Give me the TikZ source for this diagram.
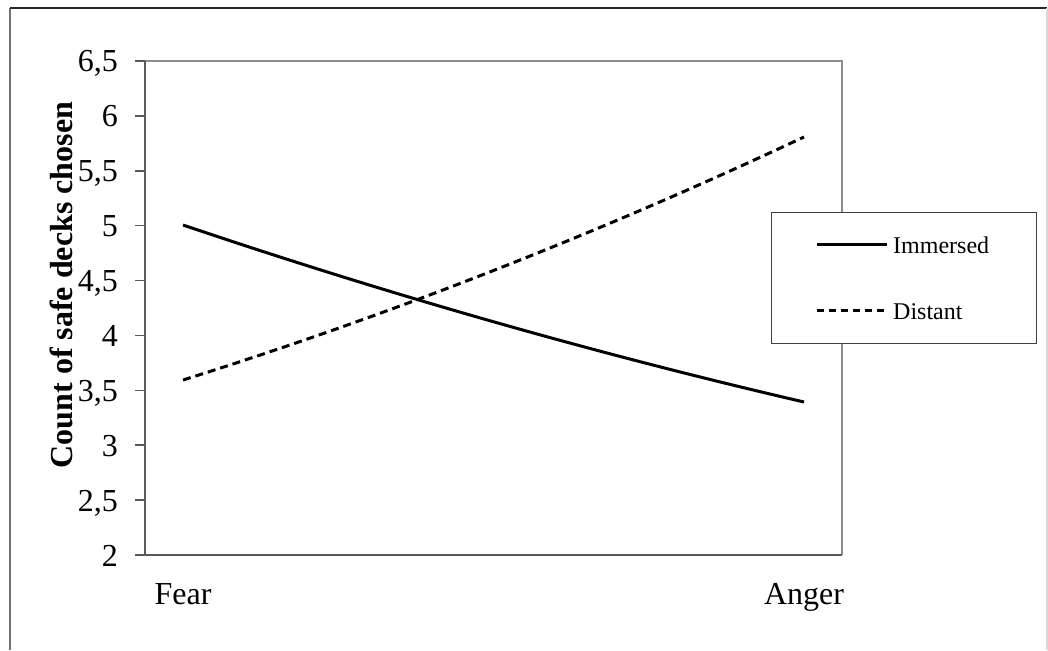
\documentclass[tikz,border=0pt]{standalone}
\usepackage{fontspec}
\setmainfont{Liberation Serif}
\tikzset{
  axisline/.style={draw=black!65, line width=1.5pt},
  frameline/.style={draw=black!45, line width=1.5pt},
  ticklabel/.style={anchor=base east, font=\fontsize{32}{36}\selectfont, inner sep=0pt},
  catlabel/.style={anchor=base, font=\fontsize{32}{36}\selectfont, inner sep=0pt},
  series/.style={line width=3pt},
  distant/.style={series, dash pattern=on 8pt off 5pt},
  keytext/.style={anchor=base west, font=\fontsize{24}{28}\selectfont, inner sep=0pt}
}
\begin{document}
\begin{tikzpicture}[x=1pt,y=-1pt]
        \useasboundingbox (0,0) rectangle (1048,650);
        % outer frame
        \draw[black!55, line width=1.5pt] (10,650) -- (10,8);
        \draw[black!85, line width=1.5pt] (10,8) -- (1047,8);
        \draw[black!15, line width=1.5pt] (1047,8) -- (1047,650);
        % plot area
        \coordinate (o) at (145,555);
        \coordinate (tl) at (145,61);
        \coordinate (tr) at (842,61);
        \coordinate (br) at (842,555);
        \draw[frameline] (tl) -- (tr) -- (br);
        \draw[axisline] (tl) -- (o) -- (br);
        % ticks
        \foreach \t [count=\i from 0] in {2,{2,5},3,{3,5},4,{4,5},5,{5,5},6,{6,5}} {
            \draw[axisline] (135,555-\i*54.89) -- (145,555-\i*54.89);
            \node[ticklabel] (tick\i) at (118,566-\i*54.89) {\t};
        }
        % text
        \node[catlabel] (fear) at (183,604) {Fear};
        \node[catlabel] (anger) at (804,604) {Anger};
        \node[rotate=90, anchor=base, inner sep=0pt,
              font=\bfseries\fontsize{32}{36}\selectfont] (ytitle) at (72,285) {Count of safe decks chosen};
        % series
        \coordinate (imfear) at (183,225);
        \coordinate (imanger) at (804,402);
        \coordinate (difear) at (183,380);
        \coordinate (dianger) at (804,137);
        \draw[series] (imfear) .. controls (390,295) and (597,354) .. (imanger);
        \draw[distant] (difear) .. controls (390,315) and (597,234) .. (dianger);
        % legend
        \node[draw=black!75, line width=1pt, fill=white, anchor=north west,
              minimum width=265, minimum height=131] (key) at (771,212) {};
        \coordinate (keyima) at (817,244);
        \coordinate (keyimb) at (887,244);
        \coordinate (keydia) at (817,310);
        \coordinate (keydib) at (887,310);
        \draw[series] (keyima) -- (keyimb);
        \draw[distant, dash pattern=on 7pt off 5pt] (keydia) -- (keydib);
        \node[keytext] (imtext) at (893,253) {Immersed};
        \node[keytext] (ditext) at (893,319) {Distant};
\end{tikzpicture}
\end{document}
